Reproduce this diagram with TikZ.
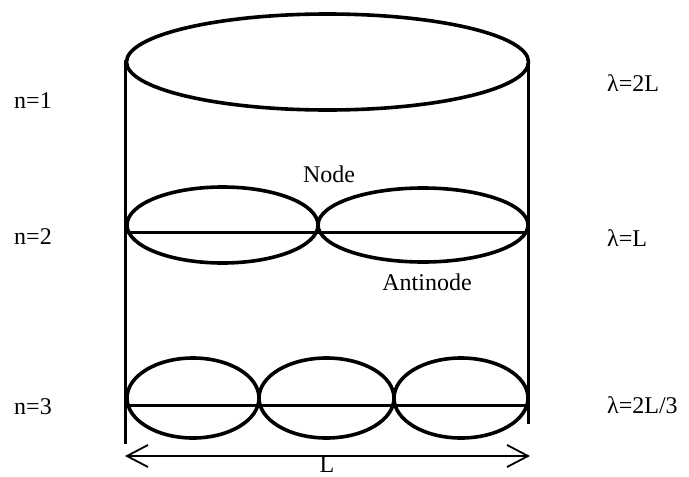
\documentclass[tikz,border=0pt]{standalone}
\usepackage{fontspec}
\setmainfont{Liberation Serif}
\usetikzlibrary{arrows.meta}
\tikzset{
  lbl/.style={font=\fontsize{24}{28}\selectfont, inner sep=0pt},
  lobe/.style={line width=3.6pt},
  wall/.style={line width=3pt},
  string/.style={line width=3pt},
}
\begin{document}
\begin{tikzpicture}[x=1pt,y=-1pt]
\useasboundingbox (0,0) rectangle (689,477);
% fixed ends
\draw[wall] (125,60) -- (125,444);
\draw[wall] (528,60) -- (528,424);
% n = 1 : single loop
\draw[lobe] (327.5,62) ellipse [x radius=201, y radius=48];
% n = 2
\draw[string] (125,232) -- (528,232);
\draw[lobe] (222.5,225) ellipse [x radius=95.5, y radius=38];
\draw[lobe] (423,225) ellipse [x radius=105, y radius=37];
% n = 3
\draw[string] (125,405) -- (528,405);
\draw[lobe] (193,398) ellipse [x radius=66, y radius=40];
\draw[lobe] (326.5,398) ellipse [x radius=67.5, y radius=40];
\draw[lobe] (461,398) ellipse [x radius=67, y radius=40];
% length arrow
\coordinate (la) at (125,456);
\coordinate (lb) at (530,456);
\draw[line width=1.8pt, {Straight Barb[length=21pt,width=22pt]}-{Straight Barb[length=21pt,width=22pt]}] (la) -- (lb);
\node[lbl, anchor=base, text depth=0pt] (L) at (327,472) {L};
% labels
\node[lbl] (n1) at (33,101) {n=1};
\node[lbl] (n2) at (33,237) {n=2};
\node[lbl] (n3) at (33,407) {n=3};
\node[lbl, anchor=west] (w1) at (607,83) {λ=2L};
\node[lbl, anchor=west] (w2) at (607,238) {λ=L};
\node[lbl, anchor=west] (w3) at (607,405) {λ=2L/3};
\node[lbl] (node) at (329,174) {Node};
\node[lbl] (anti) at (427,282) {Antinode};
\end{tikzpicture}
\end{document}
